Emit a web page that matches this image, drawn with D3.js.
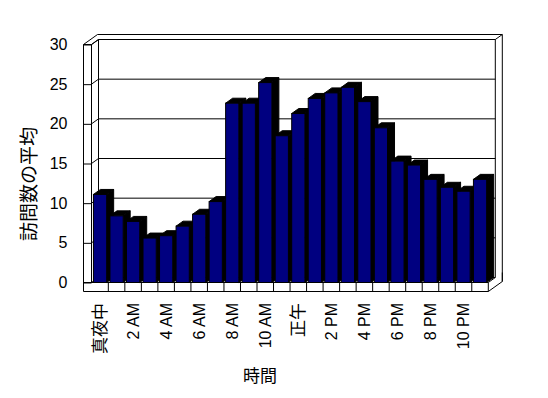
<!DOCTYPE html>
<html>
<head>
<meta charset="UTF-8">
<title>訪問数の平均</title>
<script src="https://d3js.org/d3.v7.min.js"></script>
<style>
body { margin: 0; background: #fff; }
svg { display: block; font-family: "Liberation Sans", Arial, "Noto Sans CJK JP", sans-serif; }
.edge { fill: #fff; stroke: #000; stroke-width: 1; }
.grid { fill: none; stroke: #000; stroke-width: 1; }
.axis .domain { display: none; }
.axis .tick line { stroke: #000; }
.axis text { font-size: 16px; fill: #000; }
</style>
</head>
<body>
<script>
// hour categories, only every other one gets a label
var hours = ["真夜中","1 AM","2 AM","3 AM","4 AM","5 AM","6 AM","7 AM","8 AM","9 AM","10 AM","11 AM",
             "正午","1 PM","2 PM","3 PM","4 PM","5 PM","6 PM","7 PM","8 PM","9 PM","10 PM","11 PM"];
var visits = [11.1, 8.4, 7.7, 5.6, 5.9, 7.1, 8.6, 10.2, 22.6, 22.6, 25.2, 18.5,
              21.3, 23.2, 23.9, 24.6, 22.8, 19.5, 15.3, 14.8, 13.0, 12.0, 11.5, 13.0];
var yTicks = [0, 5, 10, 15, 20, 25, 30];

var width = 548, height = 398;
var svg = d3.select("body").append("svg")
    .attr("width", width)
    .attr("height", height);

var x = d3.scaleBand()
    .domain(d3.range(hours.length))
    .range([91.8, 488.3])
    .paddingInner(0.2)
    .paddingOuter(0.1);
var y = d3.scaleLinear()
    .domain([0, 30])
    .range([282.5, 44.5]);

// oblique depth of the whole box (front -> back)
var DX = 14, DY = -10;
function p(px, py, z) { return [px + DX * z, py + DY * z]; }

var left0 = 83.5, left1 = 91.5, right0 = x.range()[1];
var topY = y(30), base = y(0), floorB = 291.5;
var wallZ = 0.5;      // front face of the back wall
var line = d3.line();

// walls
var g = svg.append("g");
g.append("path").attr("class", "edge")
    .attr("d", line([p(left0, topY, 0), p(left0, topY, 1), p(right0, topY, 1),
                     p(right0, floorB, 1), p(right0, floorB, 0), [left0, floorB]]) + "Z");
g.append("path").attr("class", "grid")
    .attr("d", line([p(left0, topY, 0), p(left1, topY, 0), p(left1, topY, wallZ), p(right0, topY, wallZ), p(right0, topY, 1)]));
g.append("path").attr("class", "grid")
    .attr("d", line([p(left1, topY, 0), p(left1, base, 0)]));
g.append("path").attr("class", "grid")
    .attr("d", line([p(left1, topY, wallZ), p(left1, base, wallZ)]));
g.append("path").attr("class", "grid")
    .attr("d", line([p(right0, topY, wallZ), p(right0, base, wallZ), p(right0, base, 0)]));
g.append("path").attr("class", "grid")
    .attr("d", line([p(right0, base, 1), p(right0, floorB, 1)]));
g.append("path").attr("class", "grid")
    .attr("d", line([[left0, base], [right0, base], [right0, floorB]]));

// gridlines: along side wall then across back wall
g.selectAll(".gl").data(yTicks).enter().append("path")
    .attr("class", "grid")
    .attr("d", function(v) {
        return line([[left1, y(v)], p(left1, y(v), wallZ), p(right0, y(v), wallZ)]);
    });

// floor front dividers
var half = (x.step() - x.bandwidth()) / 2;
g.selectAll(".fd").data(d3.range(1, hours.length)).enter().append("path")
    .attr("class", "grid")
    .attr("d", function(i) { return line([[x(i) - half, base], [x(i) - half, floorB]]); });

// bars
var bw = x.bandwidth(), bd = wallZ;
var bars = svg.append("g").selectAll("g").data(visits).enter().append("g");
bars.append("path")
    .attr("fill", "#000").attr("stroke", "#000")
    .attr("d", function(v, i) {
        var x0 = x(i), x1 = x0 + bw, yt = y(v);
        return line([[x1, yt], p(x1, yt, bd), p(x1, base, bd), [x1, base]]) + "Z";
    });
bars.append("path")
    .attr("fill", "#000").attr("stroke", "#000")
    .attr("d", function(v, i) {
        var x0 = x(i), x1 = x0 + bw, yt = y(v);
        return line([[x0, yt], p(x0, yt, bd), p(x1, yt, bd), [x1, yt]]) + "Z";
    });
bars.append("rect")
    .attr("x", function(v, i) { return x(i); })
    .attr("y", function(v) { return y(v); })
    .attr("width", bw)
    .attr("height", function(v) { return base - y(v); })
    .attr("fill", "#000080")
    .attr("stroke", "#000");

// value axis
svg.append("g")
    .attr("class", "axis")
    .attr("transform", "translate(" + left0 + ",0)")
    .call(d3.axisLeft(y).tickValues(yTicks).tickSizeInner(-(left1 - left0)).tickSizeOuter(0).tickPadding(16));

// category labels
svg.append("g").selectAll("text")
    .data(hours.filter(function(d, i) { return i % 2 === 0; }))
    .enter().append("text")
    .attr("transform", function(d, k) {
        return "translate(" + (x(k * 2) + bw / 2) + ",303) rotate(-90)";
    })
    .attr("text-anchor", "end")
    .attr("dominant-baseline", "central")
    .style("font-size", function(d) { return /[^\x00-\x7f]/.test(d) ? "17px" : "16px"; })
    .text(function(d) { return d; });

// titles
svg.append("text")
    .attr("transform", "translate(29,184) rotate(-90)")
    .attr("text-anchor", "middle")
    .attr("dominant-baseline", "central")
    .style("font-size", "19px")
    .text("訪問数の平均");
svg.append("text")
    .attr("x", 260).attr("y", 376)
    .attr("text-anchor", "middle")
    .attr("dominant-baseline", "central")
    .style("font-size", "17px")
    .text("時間");
</script>
</body>
</html>
